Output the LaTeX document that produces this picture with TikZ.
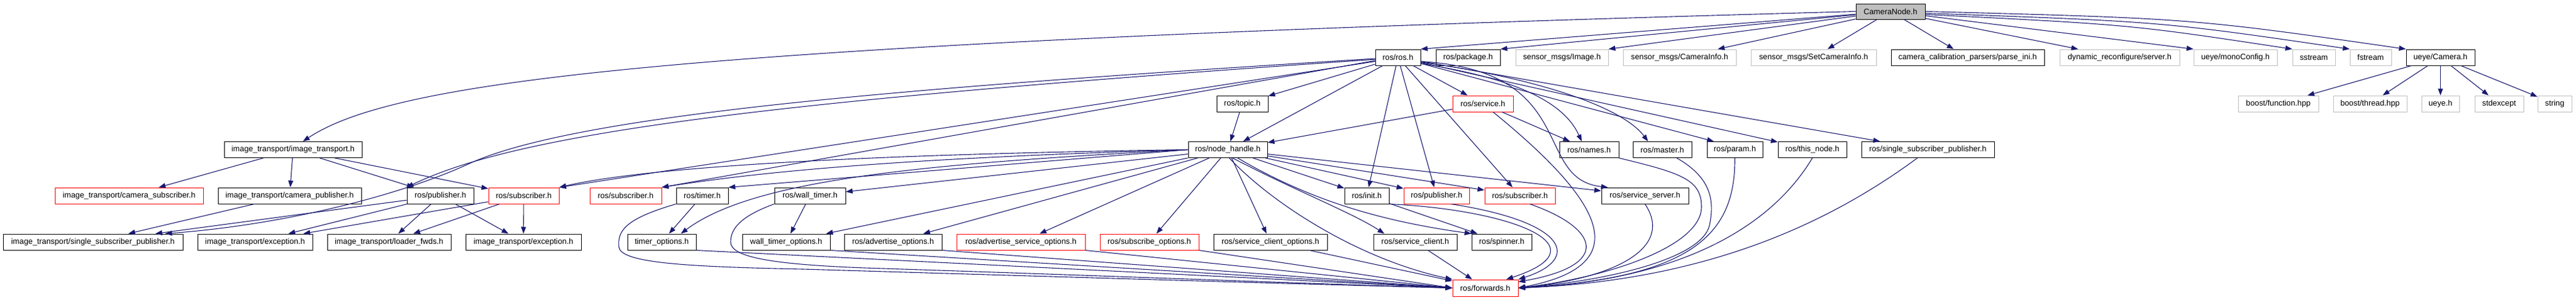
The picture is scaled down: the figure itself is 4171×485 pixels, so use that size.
\documentclass[tikz,border=0pt]{standalone}
\usepackage{fontspec}
\setmainfont{Liberation Sans}
\usetikzlibrary{arrows.meta}
\definecolor{edgec}{RGB}{25,25,112}
\definecolor{extg}{RGB}{191,191,191}
\begin{document}
\begin{tikzpicture}[x=1pt,y=-1pt,
  box/.style={draw=black, line width=1pt, fill=white, minimum height=26pt, inner sep=0pt, font=\fontsize{12.8}{15}\selectfont},
  bk/.style={box},
  rd/.style={box, draw=red},
  gr/.style={box, draw=extg},
  topbox/.style={box, fill=extg, minimum height=25pt},
  dep/.style={draw=edgec, line width=1.1pt, -{Triangle[length=11pt,width=8pt]}},
]
\useasboundingbox (0,0) rectangle (4171,485);
% row 0
\node[topbox, minimum width=112pt] (cam) at (3061,18.5) {CameraNode.h};
% row 1
\node[bk, minimum width=73pt] (rosh) at (2263.5,93) {ros/ros.h};
\node[bk, minimum width=104pt] (pkg) at (2377,93) {ros/package.h};
\node[gr, minimum width=150pt] (img) at (2529,93) {sensor\_msgs/Image.h};
\node[gr, minimum width=183pt] (caminfo) at (2719.5,93) {sensor\_msgs/CameraInfo.h};
\node[gr, minimum width=203pt] (setcam) at (2936.5,93) {sensor\_msgs/SetCameraInfo.h};
\node[bk, minimum width=248pt] (parse) at (3186,93) {camera\_calibration\_parsers/parse\_ini.h};
\node[gr, minimum width=194pt] (dyn) at (3432,93) {dynamic\_reconfigure/server.h};
\node[gr, minimum width=135pt] (mono) at (3619.5,93) {ueye/monoConfig.h};
\node[gr, minimum width=69pt] (sstream) at (3746.5,93) {sstream};
\node[gr, minimum width=67pt] (fstream) at (3838.5,93) {fstream};
\node[bk, minimum width=111pt] (ucam) at (3951.5,93) {ueye/Camera.h};
% row 2
\node[bk, minimum width=83pt] (topic) at (2011.5,168) {ros/topic.h};
\node[rd, minimum width=98pt] (service) at (2401,168) {ros/service.h};
\node[gr, minimum width=130pt] (bfunc) at (3689,168) {boost/function.hpp};
\node[gr, minimum width=119pt] (bthread) at (3837.5,168) {boost/thread.hpp};
\node[gr, minimum width=61pt] (ueyeh) at (3951.5,168) {ueye.h};
\node[gr, minimum width=79pt] (stdexc) at (4046.5,168) {stdexcept};
\node[gr, minimum width=55pt] (string) at (4136.5,168) {string};
% row 3
\node[bk, minimum width=223pt] (it) at (474.5,242.5) {image\_transport/image\_transport.h};
\node[bk, minimum width=128pt] (nh) at (1988,242.5) {ros/node\_handle.h};
\node[bk, minimum width=96pt] (names) at (2573,242.5) {ros/names.h};
\node[bk, minimum width=95pt] (master) at (2691.5,242.5) {ros/master.h};
\node[bk, minimum width=90pt] (param) at (2809,242.5) {ros/param.h};
\node[bk, minimum width=111pt] (thisnode) at (2934.5,242.5) {ros/this\_node.h};
\node[bk, minimum width=215pt] (rssp) at (3121.5,242.5) {ros/single\_subscriber\_publisher.h};
% row 4
\node[rd, minimum width=240pt] (camsub) at (209,317) {image\_transport/camera\_subscriber.h};
\node[bk, minimum width=232pt] (campub) at (469,317) {image\_transport/camera\_publisher.h};
\node[bk, minimum width=108pt] (itpub) at (713,317) {ros/publisher.h};
\node[rd, minimum width=114pt] (sub1) at (848,317) {ros/subscriber.h};
\node[rd, minimum width=116pt] (sub2) at (1013,317) {ros/subscriber.h};
\node[bk, minimum width=84pt] (timer) at (1137,317) {ros/timer.h};
\node[bk, minimum width=115pt] (wtimer) at (1311.5,317) {ros/wall\_timer.h};
\node[bk, minimum width=72pt] (init) at (2213,317) {ros/init.h};
\node[rd, minimum width=106pt] (pub2) at (2326,317) {ros/publisher.h};
\node[rd, minimum width=114pt] (sub3) at (2461,317) {ros/subscriber.h};
\node[bk, minimum width=141pt] (srvserver) at (2663.5,317) {ros/service\_server.h};
% row 5
\node[bk, minimum width=291pt] (ssp) at (150.5,392) {image\_transport/single\_subscriber\_publisher.h};
\node[bk, minimum width=186pt] (exc1) at (413,392) {image\_transport/exception.h};
\node[bk, minimum width=200pt] (loader) at (630,392) {image\_transport/loader\_fwds.h};
\node[bk, minimum width=187pt] (exc2) at (847.5,392) {image\_transport/exception.h};
\node[bk, minimum width=111pt] (topts) at (1071.5,392) {timer\_options.h};
\node[bk, minimum width=142pt] (wtopts) at (1273,392) {wall\_timer\_options.h};
\node[bk, minimum width=158pt] (advopts) at (1446,392) {ros/advertise\_options.h};
\node[rd, minimum width=208pt] (advsrv) at (1653,392) {ros/advertise\_service\_options.h};
\node[rd, minimum width=160pt] (subopts) at (1861,392) {ros/subscribe\_options.h};
\node[bk, minimum width=184pt] (scopts) at (2057,392) {ros/service\_client\_options.h};
\node[bk, minimum width=135pt] (sclient) at (2291.5,392) {ros/service\_client.h};
\node[bk, minimum width=97pt] (spinner) at (2431.5,392) {ros/spinner.h};
% row 6
\node[rd, minimum width=106pt, minimum height=27pt] (fwd) at (2405,466.5) {ros/forwards.h};

% ---- CameraNode.h
\draw[dep] (cam.west) .. controls (1100,70) and (640,130) .. ([xshift=16pt]it.north);
\draw[dep] (cam) -- (rosh.north east);
\draw[dep] (cam) -- (pkg.north east);
\draw[dep] (cam) -- (img.north east);
\draw[dep] (cam) -- (caminfo);
\draw[dep] (cam) -- (setcam);
\draw[dep] (cam) -- (parse);
\draw[dep] (cam) -- (dyn);
\draw[dep] (cam) -- (mono.north west);
\draw[dep] (cam.-5) .. controls (3450,40) .. (sstream.north west);
\draw[dep] (cam.-3) .. controls (3500,35) .. (fstream.north west);
\draw[dep] (cam.east) .. controls (3550,30) .. (ucam.north west);
% ---- ueye/Camera.h
\draw[dep] (ucam) -- (bfunc);
\draw[dep] (ucam) -- (bthread);
\draw[dep] (ucam) -- (ueyeh);
\draw[dep] (ucam) -- (stdexc);
\draw[dep] (ucam) -- (string);
% ---- image_transport.h
\draw[dep] (it) -- (camsub);
\draw[dep] (it) -- (campub);
\draw[dep] (it) -- (itpub);
\draw[dep] (it) -- (sub1);
\draw[dep] (campub) -- (ssp);
\draw[dep] (itpub) -- (ssp);
\draw[dep] (itpub) -- (exc1);
\draw[dep] (itpub) -- (loader);
\draw[dep] (itpub) -- (exc2);
\draw[dep] (sub1) -- (exc1);
\draw[dep] (sub1) -- (loader);
\draw[dep] (sub1) -- (exc2);
\draw[dep] (timer) -- (topts);
\draw[dep] (wtimer) -- (wtopts);
% ---- ros/ros.h
\draw[dep] (rosh) -- (topic);
\draw[dep] (rosh) -- (nh);
\draw[dep] (rosh) -- (init);
\draw[dep] (rosh) -- (pub2);
\draw[dep] (rosh) -- (sub3);
\draw[dep] (rosh) -- (service);
\draw[dep] (rosh.-15) .. controls (2440,125) and (2530,160) .. ([xshift=-12pt]names.north);
\draw[dep] (rosh.-12) .. controls (2450,120) and (2620,165) .. ([xshift=-23pt]master.north);
\draw[dep] (rosh) -- ([xshift=-34pt]param.north);
\draw[dep] (rosh) -- (thisnode);
\draw[dep] (rosh) -- (rssp);
\draw[dep] (rosh.-10) .. controls (2560,115) and (2480,290) .. ([xshift=-60pt]srvserver.north);
\draw[dep] (rosh.190) -- (sub1.north east);
\draw[dep] (rosh.188) -- (sub2.north east);
\draw[dep] (rosh.185) .. controls (1300,160) and (850,210) .. (itpub.north west);
\draw[dep] (rosh.183) .. controls (1500,140) and (940,183) .. (760,265)
   .. controls (640,320) and (450,365) .. ([xshift=117pt]ssp.north);
% ---- ros/node_handle.h
\draw[dep] (nh.west) .. controls (1400,250) and (1050,270) .. (sub1.north east);
\draw[dep] (nh.west) .. controls (1500,255) and (1250,275) .. (sub2.north east);
\draw[dep] (nh.west) -- (timer.north east);
\draw[dep] (nh.west) .. controls (1500,265) and (1220,290) .. ([xshift=31pt]topts.north);
\draw[dep] (nh) -- (wtimer);
\draw[dep] (nh) -- (wtopts);
\draw[dep] (nh) -- (advopts);
\draw[dep] (nh) -- (advsrv);
\draw[dep] (nh) -- (subopts);
\draw[dep] (nh) -- (scopts);
\draw[dep] (nh) -- (init);
\draw[dep] (nh) -- (pub2);
\draw[dep] (nh) -- (sub3);
\draw[dep] (nh) -- (srvserver);
\draw[dep] (nh.-60) .. controls (2100,310) and (2190,345) .. ([xshift=-50pt]sclient.north);
\draw[dep] (nh.-40) .. controls (2130,330) and (2250,360) .. (spinner.north west);
\draw[dep] (nh.-80) .. controls (2060,330) and (2200,420) .. (fwd.north west);
% ---- topic / service
\draw[dep] (topic) -- (nh);
\draw[dep] (service) -- (nh);
\draw[dep] (service) -- (names);
\draw[dep] (service) .. controls (2600,330) and (2650,430) .. (fwd.east);
% ---- init / publisher / subscriber
\draw[dep] (init) -- (spinner);
\draw[dep] (init.south east) .. controls (2450,340) and (2600,400) .. ([xshift=34pt]fwd.north);
\draw[dep] (pub2.-30) .. controls (2540,360) and (2560,420) .. (fwd.north east);
\draw[dep] (sub3.-40) .. controls (2590,370) and (2610,430) .. ([yshift=-4pt]fwd.north east);
% ---- right side to forwards
\draw[dep] (srvserver.south) .. controls (2710,400) and (2620,450) .. (fwd.east);
\draw[dep] (names.south east) .. controls (2720,280) and (2755,290) .. (2755,335)
   .. controls (2755,400) and (2600,450) .. (fwd.east);
\draw[dep] (master.-30) .. controls (2775,290) and (2775,330) .. (2768,365)
   .. controls (2755,420) and (2600,455) .. (fwd.east);
\draw[dep] (param.south) .. controls (2810,380) and (2740,450) .. (fwd.east);
\draw[dep] (thisnode.south) .. controls (2860,380) and (2700,455) .. (fwd.east);
\draw[dep] ([xshift=-17pt]rssp.south) .. controls (2950,370) and (2750,455) .. (fwd.east);
% ---- left side to forwards
\draw[dep] (sclient) -- (fwd);
\draw[dep] (scopts) -- (fwd);
\draw[dep] (subopts.south east) -- (fwd.west);
\draw[dep] (advsrv.south east) -- (fwd.west);
\draw[dep] (advopts.south east) -- (fwd.west);
\draw[dep] (wtopts.south east) -- (fwd.west);
\draw[dep] (topts.south east) -- (fwd.west);
\draw[dep] (timer.south west) .. controls (1010,355) and (1000,375) .. (1002,400)
   .. controls (1005,425) and (1100,432) .. (1300,436)
   .. controls (1700,448) and (2100,460) .. (fwd.west);
\draw[dep] (wtimer.south west) .. controls (1200,350) and (1183,370) .. (1183,392)
   .. controls (1183,415) and (1240,428) .. (1400,434)
   .. controls (1800,447) and (2100,459) .. (fwd.west);
\end{tikzpicture}
\end{document}
